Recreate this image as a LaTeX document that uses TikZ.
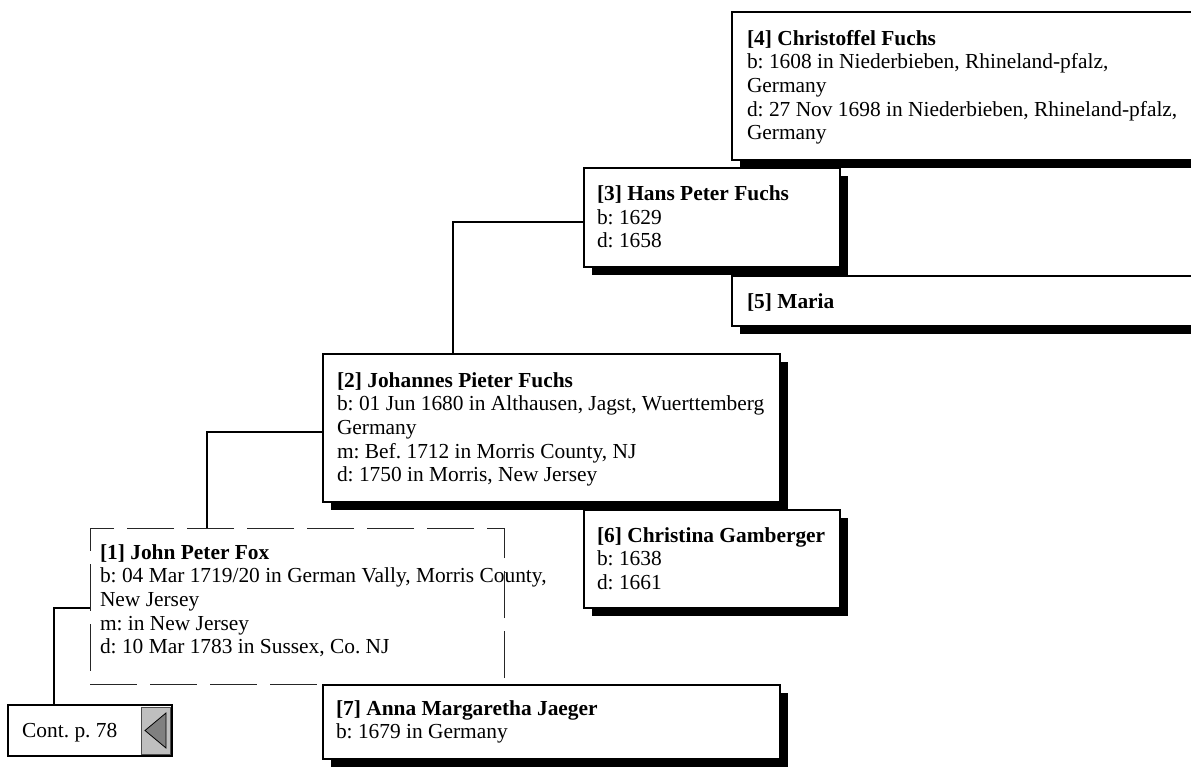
\documentclass[tikz,border=0pt]{standalone}
\usepackage{fontspec}
\setmainfont{Liberation Serif}
\usetikzlibrary{shadows,calc}
\frenchspacing
\begin{document}
\begin{tikzpicture}[x=1pt,y=-1pt,
  pbox/.style={draw=black, line width=1.2pt, fill=white, inner sep=0pt, outer sep=0pt, anchor=north west,
    drop shadow={shadow xshift=8pt, shadow yshift=-8pt, fill=black, opacity=1}},
  dbox/.style={draw=black!85, line width=1pt, inner sep=0pt, outer sep=0pt, anchor=north west,
    dash pattern=on 47pt off 13pt},
  txt/.style={inner sep=0pt, outer sep=0pt, anchor=north west, align=left,
    font=\fontsize{21.4}{23.7}\selectfont\frenchspacing},
  conn/.style={line width=1.2pt, draw=black}
]
\useasboundingbox (0,0) rectangle (1191,772);
\clip (0,0) rectangle (1191,772);
\fill[white] (0,0) rectangle (1191,772);

% [4]
\node[pbox, minimum width=480pt, minimum height=148pt] (b4) at (732,12) {};
\node[txt] (t4) at ([xshift=15pt,yshift=-15pt]b4.north west)
  {\rule{0pt}{18pt}\textbf{[4] Christoffel Fuchs}\\b: 1608 in Niederbieben, Rhineland-pfalz,\\Germany\\d: 27 Nov 1698 in Niederbieben, Rhineland-pfalz,\\Germany};
% [3]
\node[pbox, minimum width=256pt, minimum height=99pt] (b3) at (584,168) {};
\node[txt] (t3) at ([xshift=13pt,yshift=-14.5pt]b3.north west)
  {\rule{0pt}{18pt}\textbf{[3] Hans Peter Fuchs}\\b: 1629\\d: 1658};
% [5]
\node[pbox, minimum width=480pt, minimum height=50pt] (b5) at (732,276) {};
\node[txt] (t5) at ([xshift=15pt,yshift=-14pt]b5.north west)
  {\rule{0pt}{18pt}\textbf{[5] Maria}};
% [2]
\node[pbox, minimum width=457pt, minimum height=148pt] (b2) at (323,354) {};
\node[txt] (t2) at ([xshift=14pt,yshift=-15pt]b2.north west)
  {\rule{0pt}{18pt}\textbf{[2] Johannes Pieter Fuchs}\\b: 01 Jun 1680 in Althausen, Jagst, Wuerttemberg\\Germany\\m: Bef. 1712 in Morris County, NJ\\d: 1750 in Morris, New Jersey};
% [6]
\node[pbox, minimum width=256pt, minimum height=98pt] (b6) at (584,510) {};
\node[txt] (t6) at ([xshift=13pt,yshift=-14pt]b6.north west)
  {\rule{0pt}{18pt}\textbf{[6] Christina Gamberger}\\b: 1638\\d: 1661};
% [1]
\node[dbox, minimum width=414pt, minimum height=156pt] (b1) at (90,528) {};
\node[txt] (t1) at ([xshift=10pt,yshift=-13pt]b1.north west)
  {\rule{0pt}{18pt}\textbf{[1] John Peter Fox}\\b: 04 Mar 1719/20 in German Vally, Morris County,\\New Jersey\\m: in New Jersey\\d: 10 Mar 1783 in Sussex, Co. NJ};
% [7]
\node[pbox, minimum width=457pt, minimum height=74pt] (b7) at (323,685) {};
\node[txt] (t7) at ([xshift=13pt,yshift=-12pt]b7.north west)
  {\rule{0pt}{18pt}\textbf{[7] Anna Margaretha Jaeger}\\b: 1679 in Germany};

% Cont. box
\node[draw=black, line width=2pt, fill=white, inner sep=0pt, outer sep=0pt, anchor=north west,
  minimum width=164pt, minimum height=51pt] (cont) at (8,705) {};
\node[draw=black!70, line width=0.6pt, fill=black!25, inner sep=0pt, outer sep=0pt, anchor=north west,
  minimum width=29pt, minimum height=47pt] (btn) at (141,707) {};
\draw[fill=black!50, line width=0.8pt] ([xshift=4pt]btn.west) -- ([xshift=-4pt,yshift=6pt]btn.south east) -- ([xshift=-4pt,yshift=-6pt]btn.north east) -- cycle;
\node[inner sep=0pt, anchor=base west, font=\fontsize{21.4}{24}\selectfont\frenchspacing] (ct) at ([xshift=14pt,yshift=-32pt]cont.north west) {Cont. p. 78};

% connectors
\draw[conn] ([xshift=130pt]b2.north west) |- ([yshift=-54pt]b3.north west);
\draw[conn] ([xshift=117pt]b1.north west) |- ([yshift=-78pt]b2.north west);
\draw[conn] ([yshift=-80pt]b1.north west) -| ([xshift=46pt]cont.north west);
\end{tikzpicture}
\end{document}
